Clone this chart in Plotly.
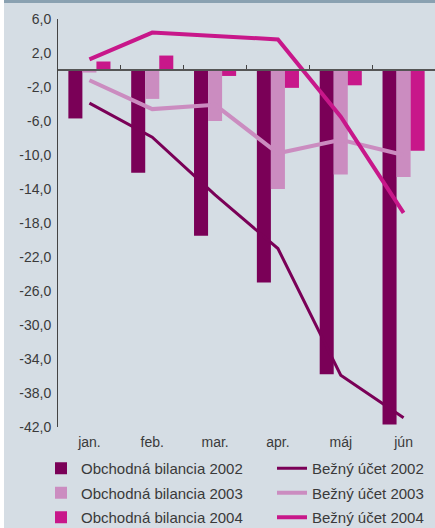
import plotly.graph_objects as go

months = ['jan.', 'feb.', 'mar.', 'apr.', 'máj', 'jún']
ob2002 = [-5.7, -12.1, -19.5, -25.0, -35.8, -41.7]
ob2003 = [-0.3, -3.4, -6.0, -14.0, -12.3, -12.6]
ob2004 = [1.0, 1.7, -0.7, -2.1, -1.8, -9.5]
bu2002 = [-3.9, -7.9, -14.7, -21.0, -35.9, -40.9]
bu2003 = [-1.2, -4.6, -4.1, -9.8, -8.2, -10.0]
bu2004 = [1.25, 4.4, 4.0, 3.6, -5.5, -16.8]
y_ticks = [6, 2, -2, -6, -10, -14, -18, -22, -26, -30, -34, -38, -42]
y_ticktext = [f"{v:.1f}".replace('.', ',') for v in y_ticks]

C02 = '#7a0057'
C03 = '#cb8cc0'
C04 = '#c8178a'
BG = '#d5dde4'
TXT = '#3a3a3a'
FONT = 'Liberation Sans, Arial, sans-serif'

fig = go.Figure()
fig.add_trace(go.Bar(x=months, y=ob2002, name='Obchodná bilancia 2002', marker_color=C02, marker_line_width=0,
                     legend='legend', legendgroup='b1'))
fig.add_trace(go.Bar(x=months, y=ob2003, name='Obchodná bilancia 2003', marker_color=C03, marker_line_width=0,
                     legend='legend', legendgroup='b2'))
fig.add_trace(go.Bar(x=months, y=ob2004, name='Obchodná bilancia 2004', marker_color=C04, marker_line_width=0,
                     legend='legend', legendgroup='b3'))
fig.add_trace(go.Scatter(x=months, y=bu2002, name='Bežný účet 2002', mode='lines', line=dict(color=C02, width=3),
                         legend='legend2', legendgroup='l1'))
fig.add_trace(go.Scatter(x=months, y=bu2003, name='Bežný účet 2003', mode='lines', line=dict(color=C03, width=4),
                         legend='legend2', legendgroup='l2'))
fig.add_trace(go.Scatter(x=months, y=bu2004, name='Bežný účet 2004', mode='lines', line=dict(color=C04, width=4),
                         legend='legend2', legendgroup='l3'))
# carrier for bottom month labels
fig.add_trace(go.Scatter(x=months, y=bu2003, xaxis='x2', mode='markers', marker=dict(opacity=0),
                         showlegend=False, hoverinfo='skip'))

leg_y = (427 - 452) / 408
leg_common = dict(orientation='v', xref='paper', yref='paper', xanchor='left', yanchor='top',
                  traceorder='grouped', tracegroupgap=2, y=leg_y,
                  font=dict(family=FONT, size=15, color=TXT), bgcolor='rgba(0,0,0,0)', itemwidth=30)

fig.update_layout(
    width=435, height=528,
    margin=dict(l=58, r=0, t=19, b=101, autoexpand=False),
    paper_bgcolor=BG, plot_bgcolor=BG,
    font=dict(family=FONT, size=14, color=TXT),
    barmode='group', bargap=0.33, bargroupgap=0,
    showlegend=True,
    legend=dict(x=(41 - 58) / 377, **leg_common),
    legend2=dict(x=(272 - 58) / 377, **leg_common),
    xaxis=dict(type='category', range=[-0.5, 5.5], anchor='free', position=0.875,
               showline=True, linecolor='#555555', linewidth=2,
               tickson='boundaries', ticks='inside', ticklen=4, tickcolor='#444444', tickwidth=1,
               showticklabels=False, showgrid=False, zeroline=False),
    xaxis2=dict(type='category', range=[-0.5, 5.5], overlaying='x', anchor='y', side='bottom',
                showline=False, ticks='outside', ticklen=2, tickcolor='rgba(0,0,0,0)',
                showgrid=False, zeroline=False, tickfont=dict(size=14, color=TXT)),
    yaxis=dict(range=[-42, 6], tickmode='array', tickvals=y_ticks, ticktext=y_ticktext,
               showline=True, linecolor='#444444', linewidth=1,
               ticks='outside', ticklen=3, tickcolor='rgba(0,0,0,0)', showgrid=False,
               zeroline=False, tickfont=dict(size=14, color=TXT)),
    shapes=[
        dict(type='rect', xref='paper', yref='paper', x0=-0.16, x1=1.01, y0=1.0392, y1=1.05,
             fillcolor='#8aa1b1', line_width=0, layer='below'),
        dict(type='rect', xref='paper', yref='paper', x0=-0.16, x1=-0.1432, y0=-0.26, y1=1.05,
             fillcolor='#ffffff', line_width=0, layer='below'),
    ],
)

fig.write_html('out.html', config={'displayModeBar': False},
               post_script="document.body.style.margin='0';")
